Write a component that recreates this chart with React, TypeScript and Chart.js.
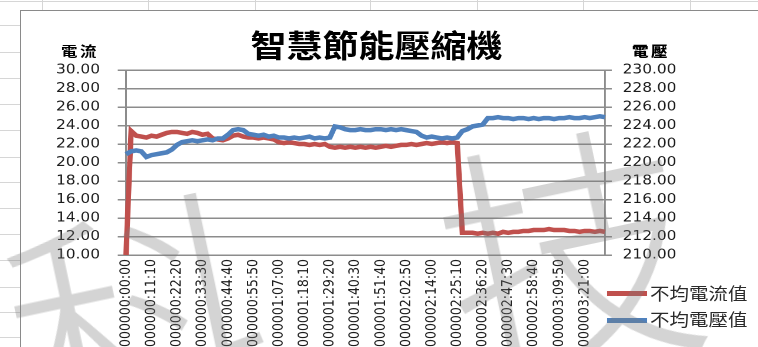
import React, { useEffect, useRef } from 'react';
import { Chart, registerables } from 'chart.js';

Chart.register(...registerables);

// ---- data ----
const SAMPLE_SECONDS = 134; // one sample every 2:14
const LABEL_EVERY = 5; // one axis label every 11:10

const currentValues = [
  10.0, 23.4, 22.9, 22.8, 22.7, 22.9, 22.8, 23.0, 23.2, 23.3,
  23.3, 23.2, 23.1, 23.3, 23.2, 23.0, 23.1, 22.6, 22.5, 22.4,
  22.6, 22.9, 23.0, 22.8, 22.7, 22.7, 22.6, 22.7, 22.6, 22.5,
  22.2, 22.1, 22.2, 22.1, 22.0, 22.0, 21.9, 22.0, 21.9, 22.0,
  21.7, 21.6, 21.7, 21.6, 21.7, 21.6, 21.7, 21.6, 21.7, 21.6,
  21.7, 21.8, 21.7, 21.8, 21.9, 21.9, 22.0, 21.9, 22.0, 22.1,
  22.0, 22.1, 22.2, 22.1, 22.2, 22.1, 12.4, 12.4, 12.4, 12.3,
  12.4, 12.3, 12.4, 12.3, 12.5, 12.4, 12.5, 12.5, 12.6, 12.6,
  12.7, 12.7, 12.7, 12.8, 12.7, 12.7, 12.7, 12.6, 12.6, 12.5,
  12.6, 12.6, 12.5, 12.6, 12.5,
];

const voltageValues = [
  220.9, 221.2, 221.3, 221.2, 220.6, 220.8, 220.9, 221.0, 221.1, 221.4,
  221.9, 222.2, 222.3, 222.4, 222.3, 222.4, 222.5, 222.4, 222.6, 222.6,
  223.0, 223.5, 223.6, 223.5, 223.1, 223.0, 222.9, 223.0, 222.8, 222.9,
  222.7, 222.7, 222.6, 222.7, 222.6, 222.7, 222.8, 222.6, 222.7, 222.6,
  222.7, 223.9, 223.8, 223.6, 223.5, 223.5, 223.6, 223.5, 223.5, 223.6,
  223.6, 223.5, 223.6, 223.5, 223.6, 223.5, 223.4, 223.3, 222.9, 222.7,
  222.8, 222.7, 222.6, 222.7, 222.6, 222.7, 223.4, 223.6, 223.9, 224.0,
  224.1, 224.8, 224.8, 224.9, 224.8, 224.8, 224.7, 224.8, 224.8, 224.7,
  224.8, 224.7, 224.8, 224.8, 224.7, 224.8, 224.8, 224.9, 224.8, 224.8,
  224.9, 224.8, 224.9, 225.0, 224.9,
];

const currentRange = [10, 30];
const voltageRange = [210, 230];
const tickStep = 2;

const titleText = '智慧節能壓縮機';
const currentAxisTitle = '電流';
const voltageAxisTitle = '電壓';
const seriesNames = ['不均電流值', '不均電壓值'];
const watermarkChars = ['科', '技'];

const pad = (n: number, w: number) => String(n).padStart(w, '0');
const categories = currentValues.map((_, i) => {
  const t = i * SAMPLE_SECONDS;
  return pad(Math.floor(t / 3600), 7) + ':' + pad(Math.floor((t % 3600) / 60), 2) + ':' + pad(t % 60, 2);
});

// ---- style ----
const RED = '#C0504D';
const BLUE = '#4F81BD';
const GRID = '#8c8c8c';
const TEXT = '#1c1c1c';
const W0 = 642; // unstretched canvas width
const H0 = 347;
const S = 758 / W0; // horizontal stretch of the whole picture
const u = (x: number) => x / S;

const sheetRows = [1, 25, 52, 78, 104, 130, 157, 182, 208, 234, 260, 287, 312, 337];
const sheetCols = [42, 148, 255, 370, 477, 583, 690];

export default function App() {
  const ref = useRef<HTMLCanvasElement | null>(null);

  useEffect(() => {
    if (!ref.current) return;
    const tickFont = { family: 'DejaVu Sans', size: 13 };
    const chart = new Chart(ref.current, {
      type: 'line',
      data: {
        labels: categories,
        datasets: [
          {
            label: seriesNames[0],
            data: currentValues,
            borderColor: RED,
            backgroundColor: RED,
            borderWidth: 4.5,
            pointRadius: 0,
            tension: 0,
            yAxisID: 'yCurrent',
            order: 1,
          },
          {
            label: seriesNames[1],
            data: voltageValues,
            borderColor: BLUE,
            backgroundColor: BLUE,
            borderWidth: 4.5,
            pointRadius: 0,
            tension: 0,
            yAxisID: 'yVoltage',
            order: 0,
          },
        ],
      },
      options: {
        responsive: false,
        animation: false,
        devicePixelRatio: 2,
        layout: { padding: { top: 70, left: 0, right: 0, bottom: 0 } },
        plugins: {
          legend: { display: false },
          title: { display: false },
          tooltip: { enabled: false },
        },
        scales: {
          x: {
            type: 'category',
            offset: false,
            grid: { display: false, drawTicks: false },
            border: { display: false },
            ticks: {
              autoSkip: false,
              minRotation: 90,
              maxRotation: 90,
              padding: 4,
              color: TEXT,
              font: { family: 'DejaVu Sans', size: 12.5 },
              callback: function (this: any, v: any, i: number) {
                return i % LABEL_EVERY === 0 ? categories[i] : '';
              },
            },
            afterFit: (s: any) => {
              s.height = 92;
            },
          },
          yCurrent: {
            position: 'left',
            min: currentRange[0],
            max: currentRange[1],
            ticks: {
              stepSize: tickStep,
              autoSkip: false,
              padding: 15,
              color: TEXT,
              font: tickFont,
              callback: (v: any) => Number(v).toFixed(2),
            },
            grid: { color: GRID, lineWidth: 1.5, tickLength: 7, drawTicks: true },
            border: { color: GRID, width: 1.5 },
            afterFit: (s: any) => {
              s.width = u(126);
            },
          },
          yVoltage: {
            position: 'right',
            min: voltageRange[0],
            max: voltageRange[1],
            ticks: {
              stepSize: tickStep,
              autoSkip: false,
              padding: 9,
              color: TEXT,
              font: tickFont,
              callback: (v: any) => Number(v).toFixed(2),
            },
            grid: { drawOnChartArea: false, color: GRID, lineWidth: 1.5, tickLength: 6, drawTicks: true },
            border: { color: GRID, width: 1.5 },
            afterFit: (s: any) => {
              s.width = W0 - u(605);
            },
          },
        },
      },
    } as any);
    return () => chart.destroy();
  }, []);

  const cjk = '"Noto Sans CJK TC", "Noto Sans CJK SC", sans-serif';

  return (
    <div
      style={{
        position: 'fixed',
        left: 0,
        top: 0,
        width: 758,
        height: 347,
        overflow: 'hidden',
        background: '#ffffff',
      }}
    >
      {/* spreadsheet background */}
      {sheetRows.map((y) => (
        <div key={'r' + y} style={{ position: 'absolute', left: 0, top: y, width: 758, height: 1, background: '#d6d6d6' }} />
      ))}
      {sheetCols.map((x) => (
        <div key={'c' + x} style={{ position: 'absolute', left: x, top: 0, width: 1, height: 12, background: '#d6d6d6' }} />
      ))}
      {/* chart frame */}
      <div
        style={{
          position: 'absolute',
          left: 20,
          top: 10,
          width: 800,
          height: 400,
          border: '1px solid #8a8a8a',
          background: '#ffffff',
        }}
      />
      {/* stretched chart */}
      <div
        style={{
          position: 'absolute',
          left: 0,
          top: 0,
          width: W0,
          height: H0,
          transform: `scaleX(${S})`,
          transformOrigin: '0 0',
        }}
      >
        <canvas ref={ref} width={W0} height={H0} style={{ position: 'absolute', left: 0, top: 0 }} />
        <div
          style={{
            position: 'absolute',
            left: u(376.5) - 200,
            width: 400,
            top: 29,
            textAlign: 'center',
            fontFamily: cjk,
            fontWeight: 700,
            fontSize: 30.5,
            lineHeight: '30.5px',
            color: '#000',
            whiteSpace: 'nowrap',
          }}
        >
          {titleText}
        </div>
        <div
          style={{
            position: 'absolute',
            left: u(80) - 40,
            width: 80,
            top: 43,
            textAlign: 'center',
            fontFamily: cjk,
            fontWeight: 700,
            fontSize: 14,
            lineHeight: '15px',
            letterSpacing: 2,
            color: '#000',
          }}
        >
          {currentAxisTitle}
        </div>
        <div
          style={{
            position: 'absolute',
            left: u(651) - 40,
            width: 80,
            top: 43,
            textAlign: 'center',
            fontFamily: cjk,
            fontWeight: 900,
            fontSize: 14,
            lineHeight: '15px',
            letterSpacing: 2,
            color: '#000',
          }}
        >
          {voltageAxisTitle}
        </div>
        {/* legend */}
        {seriesNames.map((name, k) => {
          const cy = k === 0 ? 293.5 : 320;
          return (
            <React.Fragment key={name}>
              <div
                style={{
                  position: 'absolute',
                  left: u(607),
                  width: u(647) - u(607),
                  top: cy - 2.5,
                  height: 5,
                  background: k === 0 ? RED : BLUE,
                }}
              />
              <div
                style={{
                  position: 'absolute',
                  left: u(650),
                  top: cy - 9,
                  fontFamily: cjk,
                  fontSize: 16.5,
                  lineHeight: '17px',
                  color: '#2a2a2a',
                  whiteSpace: 'nowrap',
                }}
              >
                {name}
              </div>
            </React.Fragment>
          );
        })}
      </div>
      {/* watermark */}
      {watermarkChars.map((ch, k) => (
        <div
          key={ch}
          style={{
            position: 'absolute',
            left: k === 0 ? 5 : 437,
            top: k === 0 ? 182 : 112,
            width: 260,
            height: 260,
            fontFamily: '"Noto Sans CJK TC Light", "Noto Sans CJK TC", sans-serif',
            fontWeight: 300,
            fontSize: 260,
            lineHeight: '260px',
            textAlign: 'center',
            color: 'rgba(120,120,120,0.32)',
            transform: 'rotate(-12deg)',
            pointerEvents: 'none',
          }}
        >
          {ch}
        </div>
      ))}
    </div>
  );
}
